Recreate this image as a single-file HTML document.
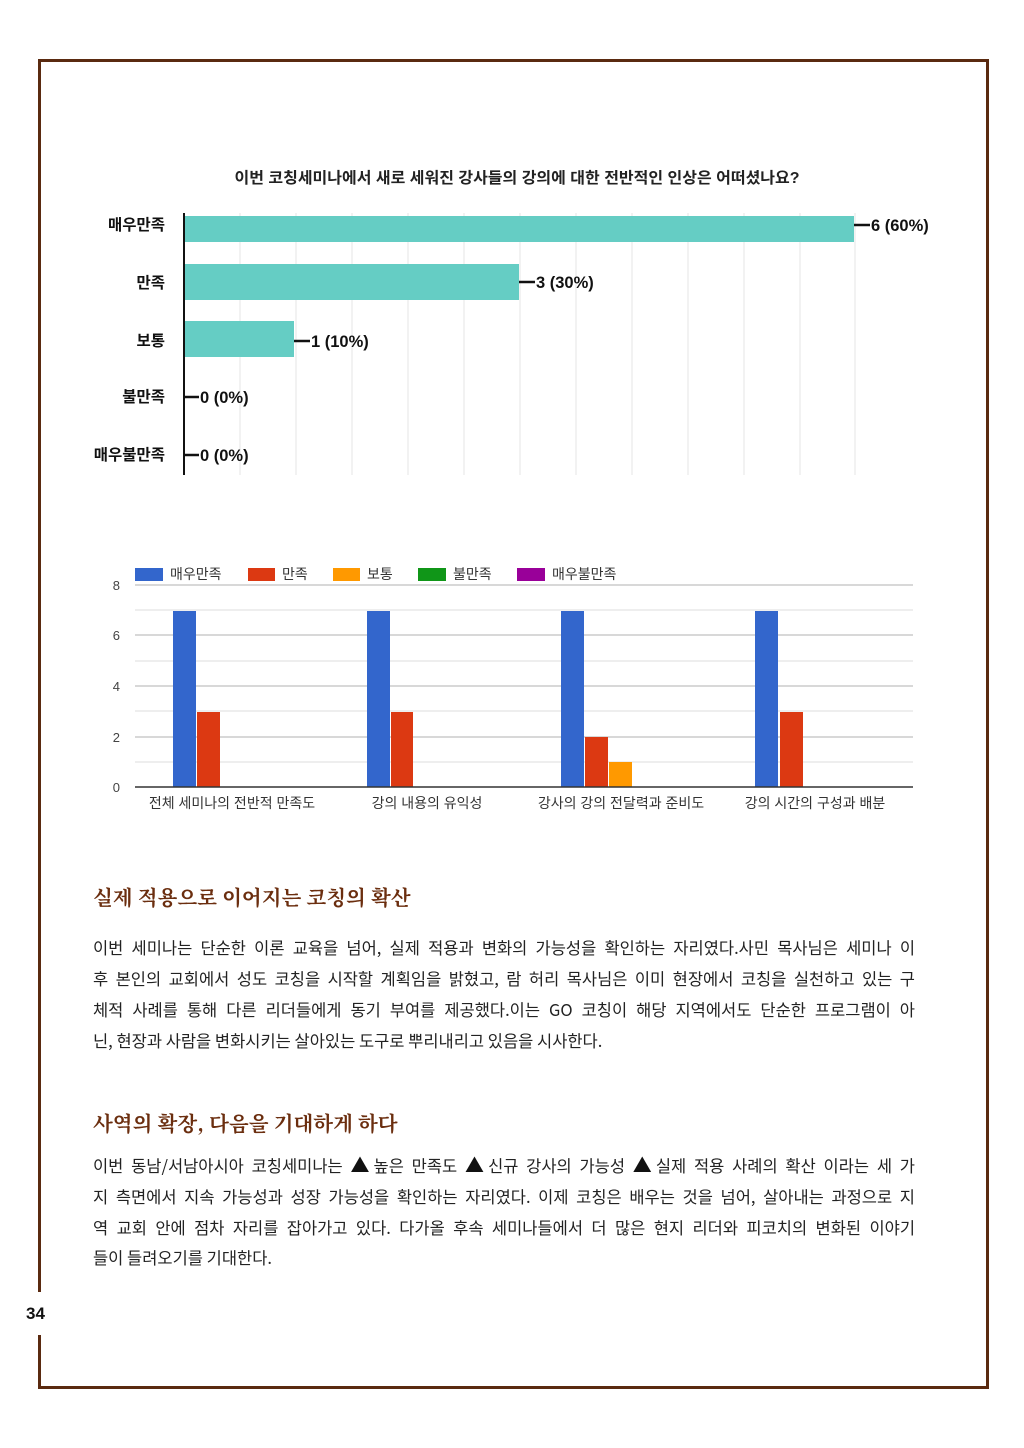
<!DOCTYPE html>
<html><head><meta charset="utf-8"><style>
body{margin:0;width:1024px;height:1448px;background:#fff;position:relative;font-family:"Liberation Sans","Noto Sans CJK KR",sans-serif;overflow:hidden}
.abs{position:absolute}
.ln{position:absolute;left:93px;width:822px;font-size:16.5px;color:#222;text-align:justify;text-align-last:justify;white-space:nowrap;line-height:20px;font-family:"Noto Sans CJK KR",sans-serif}
.ln.last{text-align-last:left}
.t{font-size:19px;color:#111}
.h{position:absolute;left:93px;font-family:"Noto Serif CJK KR",serif;font-weight:bold;font-size:20.5px;color:#6b2e0f;line-height:24px}
</style></head><body>
<div class="abs" style="left:38px;top:59px;width:951px;height:3px;background:#5a2a10"></div>
<div class="abs" style="left:986px;top:59px;width:3px;height:1330px;background:#5a2a10"></div>
<div class="abs" style="left:38px;top:1386px;width:951px;height:3px;background:#5a2a10"></div>
<div class="abs" style="left:38px;top:59px;width:3px;height:1233px;background:#5a2a10"></div>
<div class="abs" style="left:38px;top:1335px;width:3px;height:54px;background:#5a2a10"></div>
<div class="abs" style="left:26px;top:1304px;font-size:17px;font-weight:bold;color:#111">34</div>

<svg class="abs" style="left:0;top:0" width="1024" height="860" font-family="Liberation Sans, Noto Sans CJK KR, sans-serif">
<text x="517" y="183" text-anchor="middle" font-size="15.5" font-weight="bold" fill="#222" textLength="565" lengthAdjust="spacingAndGlyphs">이번 코칭세미나에서 새로 세워진 강사들의 강의에 대한 전반적인 인상은 어떠셨나요?</text>
<g stroke="#e6e6e6" stroke-width="1">
<line x1="240" y1="213" x2="240" y2="475"/><line x1="296" y1="213" x2="296" y2="475"/><line x1="352" y1="213" x2="352" y2="475"/><line x1="408" y1="213" x2="408" y2="475"/><line x1="464" y1="213" x2="464" y2="475"/><line x1="520" y1="213" x2="520" y2="475"/><line x1="576" y1="213" x2="576" y2="475"/><line x1="632" y1="213" x2="632" y2="475"/><line x1="688" y1="213" x2="688" y2="475"/><line x1="744" y1="213" x2="744" y2="475"/><line x1="800" y1="213" x2="800" y2="475"/><line x1="855" y1="213" x2="855" y2="475"/>
</g>
<rect x="185" y="216" width="669" height="26" fill="#65cdc4"/>
<rect x="185" y="264" width="334" height="36" fill="#65cdc4"/>
<rect x="185" y="321" width="109" height="36" fill="#65cdc4"/>
<line x1="184" y1="213" x2="184" y2="475" stroke="#111" stroke-width="2"/>
<g stroke="#111" stroke-width="2.5">
<line x1="854" y1="225" x2="870" y2="225"/><line x1="519" y1="282" x2="535" y2="282"/><line x1="294" y1="341" x2="310" y2="341"/><line x1="185" y1="397" x2="199" y2="397"/><line x1="185" y1="455" x2="199" y2="455"/>
</g>
<g font-size="16.5" font-weight="bold" fill="#111">
<text x="871" y="231">6 (60%)</text><text x="536" y="288">3 (30%)</text><text x="311" y="347">1 (10%)</text><text x="200" y="403">0 (0%)</text><text x="200" y="461">0 (0%)</text>
</g>
<g font-size="15.5" font-weight="bold" fill="#111" text-anchor="end">
<text x="165" y="230">매우만족</text><text x="165" y="288">만족</text><text x="165" y="346">보통</text><text x="165" y="402">불만족</text><text x="165" y="460">매우불만족</text>
</g>

<g font-size="14" fill="#333">
<rect x="135" y="568" width="28" height="13" fill="#3366cc"/><text x="170" y="579">매우만족</text>
<rect x="248" y="568" width="27" height="13" fill="#dc3912"/><text x="282" y="579">만족</text>
<rect x="333" y="568" width="27" height="13" fill="#ff9900"/><text x="367" y="579">보통</text>
<rect x="418" y="568" width="28" height="13" fill="#109618"/><text x="453" y="579">불만족</text>
<rect x="517" y="568" width="28" height="13" fill="#990099"/><text x="552" y="579">매우불만족</text>
</g>
<g stroke="#e8e8e8" stroke-width="1.5">
<line x1="135" y1="585" x2="913" y2="585" stroke="#ccc"/><line x1="135" y1="610" x2="913" y2="610"/><line x1="135" y1="635" x2="913" y2="635" stroke="#ccc"/><line x1="135" y1="661" x2="913" y2="661"/><line x1="135" y1="686" x2="913" y2="686" stroke="#ccc"/><line x1="135" y1="711" x2="913" y2="711"/><line x1="135" y1="737" x2="913" y2="737" stroke="#ccc"/><line x1="135" y1="762" x2="913" y2="762"/>
</g>
<g font-size="13" fill="#444" text-anchor="end">
<text x="120" y="590">8</text><text x="120" y="640">6</text><text x="120" y="691">4</text><text x="120" y="742">2</text><text x="120" y="792">0</text>
</g>
<g fill="#3366cc"><rect x="173" y="611" width="23" height="176"/><rect x="367" y="611" width="23" height="176"/><rect x="561" y="611" width="23" height="176"/><rect x="755" y="611" width="23" height="176"/></g>
<g fill="#dc3912"><rect x="197" y="712" width="23" height="75"/><rect x="391" y="712" width="22" height="75"/><rect x="585" y="737" width="23" height="50"/><rect x="780" y="712" width="23" height="75"/></g>
<rect x="609" y="762" width="23" height="25" fill="#ff9900"/>
<line x1="135" y1="787" x2="913" y2="787" stroke="#333" stroke-width="1.5"/>
<g font-size="14" fill="#333" text-anchor="middle">
<text x="232" y="808">전체 세미나의 전반적 만족도</text><text x="427" y="808">강의 내용의 유익성</text><text x="621" y="808">강사의 강의 전달력과 준비도</text><text x="815" y="808">강의 시간의 구성과 배분</text>
</g>
</svg>

<div class="h" style="top:884px">실제 적용으로 이어지는 코칭의 확산</div>
<div class="ln" style="top:937px">이번 세미나는 단순한 이론 교육을 넘어, 실제 적용과 변화의 가능성을 확인하는 자리였다.사민 목사님은 세미나 이</div>
<div class="ln" style="top:968px">후 본인의 교회에서 성도 코칭을 시작할 계획임을 밝혔고, 람 허리 목사님은 이미 현장에서 코칭을 실천하고 있는 구</div>
<div class="ln" style="top:999px">체적 사례를 통해 다른 리더들에게 동기 부여를 제공했다.이는 GO 코칭이 해당 지역에서도 단순한 프로그램이 아</div>
<div class="ln last" style="top:1030px">닌, 현장과 사람을 변화시키는 살아있는 도구로 뿌리내리고 있음을 시사한다.</div>

<div class="h" style="top:1110px">사역의 확장, 다음을 기대하게 하다</div>
<div class="ln" style="top:1155px">이번 동남/서남아시아 코칭세미나는 <span class="t">▲</span>높은 만족도 <span class="t">▲</span>신규 강사의 가능성 <span class="t">▲</span>실제 적용 사례의 확산 이라는 세 가</div>
<div class="ln" style="top:1186px">지 측면에서 지속 가능성과 성장 가능성을 확인하는 자리였다. 이제 코칭은 배우는 것을 넘어, 살아내는 과정으로 지</div>
<div class="ln" style="top:1217px">역 교회 안에 점차 자리를 잡아가고 있다. 다가올 후속 세미나들에서 더 많은 현지 리더와 피코치의 변화된 이야기</div>
<div class="ln last" style="top:1247px">들이 들려오기를 기대한다.</div>
</body></html>
